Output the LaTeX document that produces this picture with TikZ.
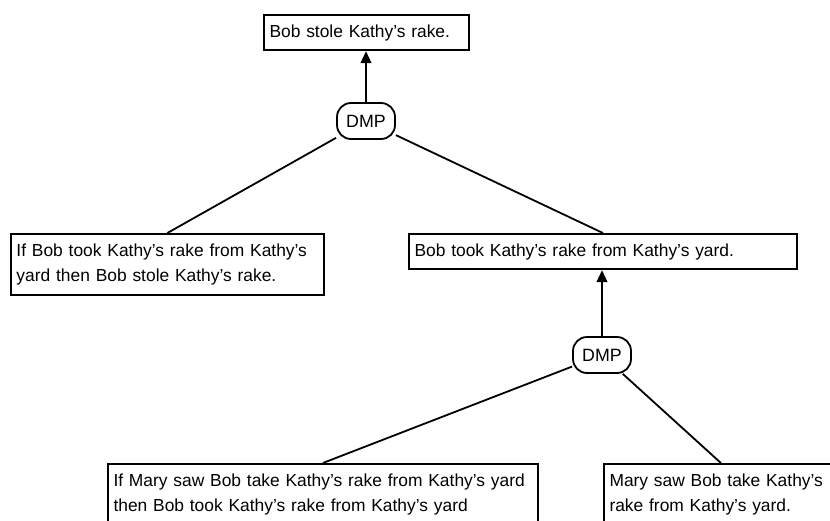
\documentclass[tikz,border=0pt]{standalone}
\usepackage{fontspec}
\setmainfont{Liberation Sans}
\usepackage{tikz}
\usetikzlibrary{arrows.meta}

\begin{document}
\begin{tikzpicture}[x=0.5pt, y=-0.5pt, line width=0.9pt,
        claim/.style={draw, rectangle, anchor=north west, align=left, inner xsep=2.8pt, inner ysep=4.8pt,
            font=\fontsize{8.7}{12.8}\selectfont},
        rule/.style={draw, rectangle, rounded corners=7pt, minimum width=29pt, minimum height=18pt,
            inner sep=0pt, font=\fontsize{8.9}{10}\selectfont},
        support/.style={-{Triangle[length=6pt, width=5.4pt]}}]
        \useasboundingbox (0, 0) rectangle (830, 520);
        \clip (0, 0) rectangle (830, 520);

        \node [claim, text width=96.9pt] (C0) at (263, 14) {Bob stole Kathy's rake.};
        \node [rule] (D1) at (366, 121) {DMP};
        \node [claim, text width=150.9pt] (C1) at (10, 233) {If Bob took Kathy's rake from Kathy's\\yard then Bob stole Kathy's rake.};
        \node [claim, text width=188.4pt] (C2) at (408, 233) {Bob took Kathy's rake from Kathy's yard.};
        \node [rule] (D2) at (602, 355) {DMP};
        \node [claim, text width=209.4pt] (C3) at (107, 463) {If Mary saw Bob take Kathy's rake from Kathy's yard\\then Bob took Kathy's rake from Kathy's yard};
        \node [claim, text width=111.4pt] (C4) at (603, 463) {Mary saw Bob take Kathy's\\rake from Kathy's yard.};

        \draw [support] (D1.north) -- (D1.north |- C0.south);
        \draw (D1) -- (C1.north);
        \draw (D1) -- (C2.north);

        \draw [support] (D2.north) -- (D2.north |- C2.south);
        \draw (D2) -- (C3.north);
        \draw (D2) -- (C4.north);
    \end{tikzpicture}
\end{document}
